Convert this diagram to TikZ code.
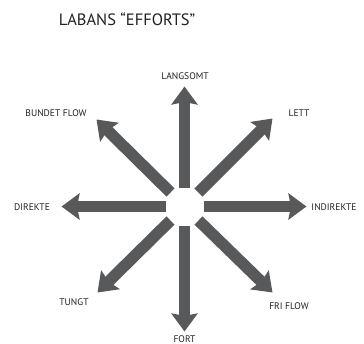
\documentclass[tikz,border=0pt]{standalone}
\usepackage{fontspec}
\setmainfont{PT Sans}
\usetikzlibrary{arrows.meta,calc}
\definecolor{arrowgray}{HTML}{58595B}
\definecolor{textgray}{HTML}{231F20}
\tikzset{
  effort/.style={draw=arrowgray, line width=11.5bp, line cap=butt,
    -{Stealth[length=18bp, width=26bp, inset=2.5bp]}},
  lbl/.style={font=\fontsize{9.6}{11}\selectfont, text=textgray, inner sep=0pt}
}
\begin{document}
\begin{tikzpicture}[x=1bp,y=-1bp]
\useasboundingbox (0,0) rectangle (364,344);
\node[font=\fontsize{16.5}{19}\selectfont, text=textgray, inner sep=0pt] (title) at (127,19) {LABANS “EFFORTS”};
\coordinate (c) at (184.5,206.5);
\coordinate (sup) at ($(c)+(0,-19)$);  \coordinate (eup) at ($(c)+(0,-120)$);
\coordinate (sd)  at ($(c)+(0,19)$);   \coordinate (ed)  at ($(c)+(0,125)$);
\coordinate (sr)  at ($(c)+(19.5,0)$); \coordinate (er)  at ($(c)+(122,0)$);
\coordinate (sl)  at ($(c)+(-18.5,0)$);\coordinate (el)  at ($(c)+(-123,0)$);
\coordinate (sur) at ($(c)+(14,-14)$); \coordinate (eur) at ($(c)+(88,-88)$);
\coordinate (sul) at ($(c)+(-14,-14)$);\coordinate (eul) at ($(c)+(-88,-87)$);
\coordinate (sdr) at ($(c)+(14,14)$);  \coordinate (edr) at ($(c)+(88,86)$);
\coordinate (sdl) at ($(c)+(-14,14)$); \coordinate (edl) at ($(c)+(-87,86)$);
\foreach \n in {up,d,r,l,ur,ul,dr,dl} {
  \draw[effort] (s\n) -- (e\n);
}
\node[lbl] (langsomt) at (185,76) {LANGSOMT};
\node[lbl] (bundet) at (56,113) {BUNDET FLOW};
\node[lbl] (lett) at (299,113) {LETT};
\node[lbl] (direkte) at (32,207) {DIREKTE};
\node[lbl] (indirekte) at (334,207) {INDIREKTE};
\node[lbl] (tungt) at (74,302) {TUNGT};
\node[lbl] (fri) at (289,306) {FRI FLOW};
\node[lbl] (fort) at (184.5,339.5) {FORT};
\end{tikzpicture}
\end{document}
